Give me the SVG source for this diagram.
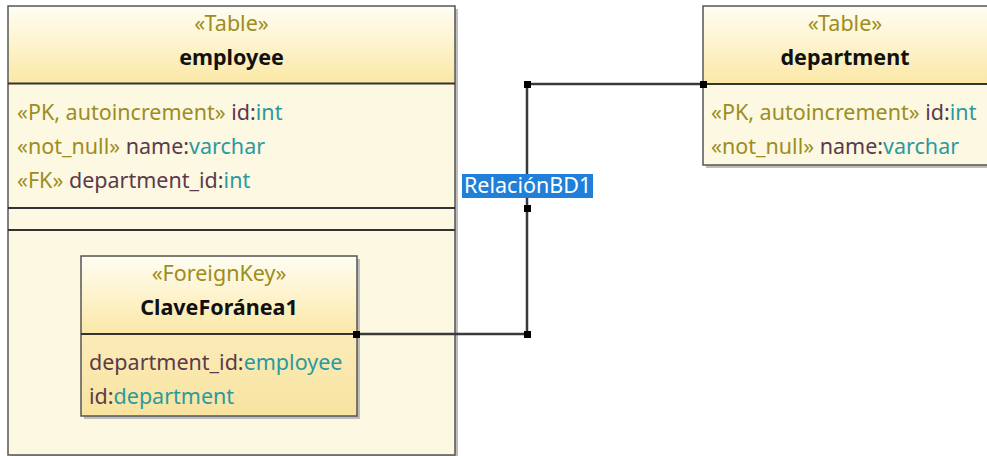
<svg xmlns="http://www.w3.org/2000/svg" width="987" height="456" viewBox="0 0 987 456">
<style>
.t{font-family:"Noto Sans","Open Sans",sans-serif;font-size:21.5px}
.st{fill:#9c8d1f}
.nm{fill:#5b3a4b}
.ty{fill:#2a9aa0}
.ti{font-weight:bold;fill:#111}
.box{stroke:#555;stroke-width:1.5}
.sep{stroke:#333;stroke-width:2}
.sh{fill:#bdbdbd}
.con{fill:none;stroke:#3a3a3a;stroke-width:2.5}
.pt{fill:#000}
</style>
<defs>
<linearGradient id="hdr" x1="0" y1="0" x2="0" y2="1"><stop offset="0" stop-color="#fffdf2"/><stop offset="1" stop-color="#fbe8a6"/></linearGradient>
<linearGradient id="fkb" x1="0" y1="0" x2="0" y2="1"><stop offset="0" stop-color="#fdf3cf"/><stop offset="1" stop-color="#f8e3a0"/></linearGradient>
</defs>
<g id="employee">
<rect class="sh" x="11" y="9" width="447" height="449"/>
<rect class="box" x="8" y="6" width="447" height="449" fill="#fdf8e2"/>
<rect x="9" y="7" width="445" height="76" fill="url(#hdr)"/>
<line class="sep" x1="8" y1="83.5" x2="455" y2="83.5"/>
<line class="sep" x1="8" y1="208" x2="455" y2="208"/>
<line class="sep" x1="8" y1="230" x2="455" y2="230"/>
<text class="t st" x="231.5" y="31" text-anchor="middle">«Table»</text>
<text class="t ti" x="231.5" y="65" text-anchor="middle">employee</text>
<text class="t" x="17" y="120"><tspan class="st">«PK, autoincrement»</tspan><tspan class="nm"> id:</tspan><tspan class="ty">int</tspan></text>
<text class="t" x="17" y="154"><tspan class="st">«not_null»</tspan><tspan class="nm"> name:</tspan><tspan class="ty">varchar</tspan></text>
<text class="t" x="17" y="188"><tspan class="st">«FK»</tspan><tspan class="nm"> department_id:</tspan><tspan class="ty">int</tspan></text>
</g>
<g id="clave">
<rect class="sh" x="84" y="259" width="276" height="160"/>
<rect class="box" x="81" y="256" width="276" height="160" fill="url(#fkb)"/>
<rect x="82" y="257" width="274" height="77" fill="url(#hdr)"/>
<line class="sep" x1="81" y1="334" x2="357" y2="334"/>
<text class="t st" x="219" y="281" text-anchor="middle">«ForeignKey»</text>
<text class="t ti" x="219" y="315" text-anchor="middle">ClaveForánea1</text>
<text class="t" x="89" y="370"><tspan class="nm">department_id:</tspan><tspan class="ty">employee</tspan></text>
<text class="t" x="89" y="404"><tspan class="nm">id:</tspan><tspan class="ty">department</tspan></text>
</g>
<g id="department">
<rect class="sh" x="706" y="9" width="300" height="159"/>
<rect class="box" x="703" y="6" width="300" height="159" fill="#fdf8e2"/>
<rect x="704" y="7" width="298" height="77" fill="url(#hdr)"/>
<line class="sep" x1="703" y1="84" x2="1003" y2="84"/>
<text class="t st" x="845" y="31" text-anchor="middle">«Table»</text>
<text class="t ti" x="845" y="65" text-anchor="middle">department</text>
<text class="t" x="711" y="120"><tspan class="st">«PK, autoincrement»</tspan><tspan class="nm"> id:</tspan><tspan class="ty">int</tspan></text>
<text class="t" x="711" y="154"><tspan class="st">«not_null»</tspan><tspan class="nm"> name:</tspan><tspan class="ty">varchar</tspan></text>
</g>
<g id="connectors">
<path class="con" d="M356,334 H527 V84 H703"/>
<rect class="pt" x="353" y="331" width="7" height="7"/>
<rect class="pt" x="524" y="331" width="7" height="7"/>
<rect class="pt" x="524" y="81" width="7" height="7"/>
<rect class="pt" x="700" y="81" width="7" height="7"/>
<rect class="pt" x="524" y="205" width="7" height="7"/>
<rect x="462" y="174" width="131" height="24" fill="#1f7fd9"/>
<text class="t" x="464" y="192.5" fill="#fff" font-size="19">RelaciónBD1</text>
</g>
</svg>
